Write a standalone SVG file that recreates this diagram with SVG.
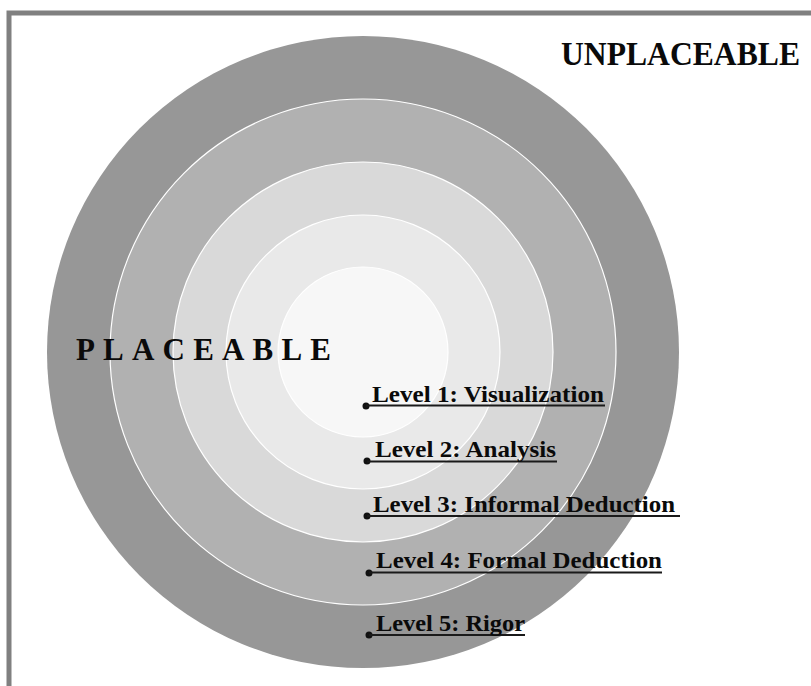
<svg xmlns="http://www.w3.org/2000/svg" width="811" height="686" viewBox="0 0 811 686">
<style>
.ring{stroke:#ffffff;stroke-width:1.2}
.lbl{font-family:"Liberation Serif","DejaVu Serif",serif;font-weight:bold;font-size:23px;fill:#0a0a0a}
.big{font-family:"Liberation Serif","DejaVu Serif",serif;font-weight:bold;fill:#0a0a0a}
.ul{stroke:#1a1a1a;stroke-width:1.8}
</style>
<rect x="0" y="0" width="811" height="686" fill="#ffffff"/>
<rect x="9" y="13" width="900" height="800" fill="none" stroke="#808080" stroke-width="5"/>
<g id="rings">
<circle id="ring5" cx="363" cy="352" r="316" fill="#979797"/>
<circle id="ring4" class="ring" cx="363" cy="352" r="253" fill="#b1b1b1"/>
<circle id="ring3" class="ring" cx="363" cy="352" r="190" fill="#d9d9d9"/>
<circle id="ring2" class="ring" cx="363" cy="352" r="137" fill="#e9e9e9"/>
<circle id="ring1" class="ring" cx="363" cy="352" r="85" fill="#f7f7f7"/>
</g>
<g id="unplaceable"><text class="big" x="561" y="65" font-size="33" textLength="239" lengthAdjust="spacingAndGlyphs">UNPLACEABLE</text></g>
<g id="placeable"><text class="big" x="76" y="360" font-size="31" textLength="255" lengthAdjust="spacing">PLACEABLE</text></g>
<g id="level1">
<circle cx="366" cy="406" r="3.5" fill="#111"/>
<line class="ul" x1="366" y1="405.5" x2="605" y2="405.5"/>
<text class="lbl" x="372" y="402" textLength="232" lengthAdjust="spacingAndGlyphs">Level 1: Visualization</text>
</g>
<g id="level2">
<circle cx="367" cy="461" r="3.5" fill="#111"/>
<line class="ul" x1="367" y1="461.5" x2="557" y2="461.5"/>
<text class="lbl" x="375" y="457" textLength="181" lengthAdjust="spacingAndGlyphs">Level 2: Analysis</text>
</g>
<g id="level3">
<circle cx="367" cy="516" r="3.5" fill="#111"/>
<line class="ul" x1="367" y1="516" x2="680" y2="516"/>
<text class="lbl" x="373" y="512" textLength="302" lengthAdjust="spacingAndGlyphs">Level 3: Informal Deduction</text>
</g>
<g id="level4">
<circle cx="369" cy="573" r="3.5" fill="#111"/>
<line class="ul" x1="369" y1="572.5" x2="662" y2="572.5"/>
<text class="lbl" x="376" y="568" textLength="286" lengthAdjust="spacingAndGlyphs">Level 4: Formal Deduction</text>
</g>
<g id="level5">
<circle cx="369" cy="635" r="3.5" fill="#111"/>
<line class="ul" x1="369" y1="635" x2="525" y2="635"/>
<text class="lbl" x="376" y="631" textLength="149" lengthAdjust="spacingAndGlyphs">Level 5: Rigor</text>
</g>
</svg>
